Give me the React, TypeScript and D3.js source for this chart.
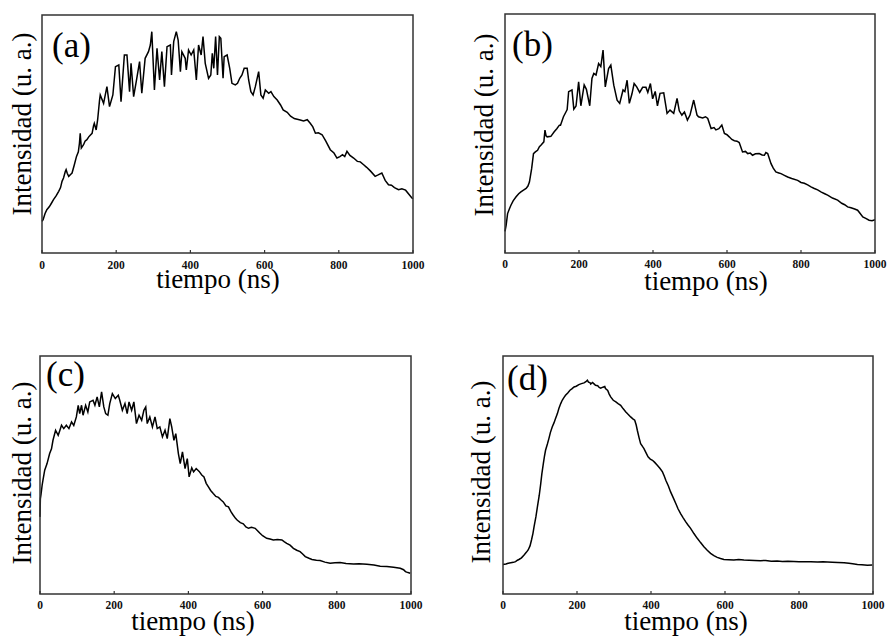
import React from 'react';
import * as d3 from 'd3';

// ---------- DATA (time in ns, intensity in arbitrary units 0-100 of the panel height) ----------
const timeA = [0,3,8,13,20,25,31,38,45,50,54,58,63,65,68,72,77,81,87,93,98,101,103,106,112,116,121,126,130,135,139,141,146,150,153,155,157,166,175,182,191,198,207,213,222,229,236,240,247,254,263,269,278,287,292,296,303,310,317,323,330,337,346,349,355,362,367,373,377,386,389,395,402,409,416,422,429,434,440,449,455,459,463,468,473,478,482,488,491,499,506,512,521,527,533,539,545,553,557,563,569,575,584,590,596,602,611,617,625,634,643,650,661,670,680,696,705,715,723,730,737,745,755,765,777,787,795,803,810,816,822,830,840,850,858,867,875,885,898,906,916,925,934,942,950,961,970,980,990,997,1000];
const intensityA = [13.3,14,16.5,18.2,19.5,20.8,22.4,24,25.9,27.5,30.1,31.5,34.3,35,33.5,32.2,33,33.6,37,40.6,42.5,46.2,50.3,44.1,45.5,47,47.6,48.8,49.5,50.3,53.5,54.5,51.7,56,60.8,64,66.4,62.9,69.9,61.5,66.4,78.3,79,63.6,83.2,83.2,67.8,79.7,65.7,72,80.4,67.1,81.8,84.6,87.4,93,68.5,86,72.7,84.6,69.9,86.7,87.4,74.8,88.8,93,89.5,76.2,84.6,81.8,76.9,85.3,83.2,85.3,72.7,87.4,83.2,90.9,79.7,73.4,74.8,83.9,77.6,90.9,74.8,90.9,90.2,73.4,82.5,83.2,77.6,71.3,70.6,71.3,73.4,74.8,77.6,77.6,72.7,67.8,66.4,69.9,76.2,66.4,65,68.5,67.1,67.8,65.7,64.3,62.2,60.1,59.1,57.5,56.5,55.9,55.5,56,54.5,53,50.3,50.5,49.7,47,43.4,42,39.9,40.5,41.3,40.5,42.7,41,39.9,38.5,38.3,37.1,36,34.5,32.2,32.8,33.6,30.5,28.7,28.5,27.5,26.6,27,26.4,24.5,23.1,22.8];

const timeB = [0,3,7,12,16,22,30,37,43,50,57,62,66,72,77,82,88,93,97,105,108,111,114,124,133,140,147,150,158,165,168,172,181,186,192,199,205,214,220,229,235,240,246,253,259,265,271,280,286,294,303,310,319,324,330,336,343,349,356,364,372,381,386,393,399,406,412,419,429,438,446,456,465,471,478,485,493,500,510,519,523,534,542,548,557,565,570,578,586,593,600,606,613,620,627,633,642,650,656,663,669,677,687,695,701,705,710,719,725,732,740,746,755,764,775,791,800,809,818,827,836,845,855,864,872,885,899,910,918,926,935,945,953,960,967,975,984,992,1000];
const intensityB = [9,11.6,16.5,18.5,20,21.8,23.5,24.8,25.6,26.3,27,28,29.7,35.3,41.6,42.3,43,44.5,45.1,46.5,51.4,49,48.6,48.8,50.7,52,53.5,53.5,57,59.1,60,67.5,68.2,60.2,61.5,71.6,61.6,70.3,68.5,61.6,73,75.1,74.5,79.3,78,84.9,69.5,77.2,78.6,70.2,63.9,62.6,68.2,67.5,72.3,62.6,66.5,70.9,69.5,67.2,69.3,69.3,67.2,70.9,64.5,67.6,61.6,66.8,67,58.4,59.8,58.4,64.7,59.5,57.7,59,55.6,57.7,64,57.7,57,56.5,57,56.3,52.1,52.5,51.5,52,53.5,50,49.5,48.6,47.5,47,46.8,46.2,42.3,42.5,41.6,41.8,40.9,41.5,41.6,41,40.9,42,41.6,37.4,35.5,33.9,33.5,33.2,32.5,31.8,31.2,30.4,29.5,29.2,28.5,27.7,27,26.4,25.5,24.8,24.2,23,22.1,20.8,20.2,19.3,18.9,18.4,17.9,16.5,15.1,14.5,13.7,13.5,13.9];

const timeC = [0,1,3,6,8,12.7,19,26,31,35,42,49,53,58,64,71,78,85,91,98,103,107,112,116,123,129,134,143,148,154,160,166,172,177,183,188,195,203,211,215,222,229,235,240,247,253,260,267,274,280,285,289,296,303,310,316,323,330,337,343,350,355,361,366,373,378,384,391,397,402,409,414,421,429,436,442,448,454,460,467,474,481,488,494,501,508,515,521,527,532,540,548,555,562,570,580,587,593,600,611,620,629,640,652,658,665,674,683,692,701,708,715,725,733,745,755,768,782,795,809,825,845,860,881,900,917,935,953,971,980,985,992,998];
const intensityC = [32.4,40,42.2,46,47.8,52,54.8,59,61,64.6,68.8,66.7,68.5,70.9,69.5,70.9,69.5,72.3,70.8,74.4,79.3,75.8,79.3,75.1,79.3,76.5,80.7,81.4,79.3,82.8,78.6,84.9,78.6,75.8,75.1,80,84.2,82.1,83.5,81.4,77.2,80,75.8,80.7,77.2,80.7,71.6,75.1,73,77.2,78.6,71.6,74.4,70.2,74.4,69.5,70.2,66,68.8,65.3,73.7,70.2,64.6,67.4,59,54.8,59.7,52.7,56.9,49.2,53,51.3,52.7,51.5,50,49.2,46.5,45,43.5,42.2,41,40.6,39.5,38.7,37,36.6,34.5,33.1,31.8,31,30,29.5,28.2,27.6,28,27.6,26.5,25.5,24.5,23.4,23.1,22.7,22.9,22.7,22,21.3,20.5,19.2,18.4,17.8,16.8,15.7,15,14.5,14.2,14.1,13.4,12.9,13.1,13.2,12.8,12.6,12.7,12.5,12.2,11.7,11.6,11.2,10.8,10.2,9.4,9,8.7];

const timeD = [0,8,14,21,28,34,39,43,50,57,63,68,73,77,81,84,89,93,98,102,105,109,112,115,120,124,128,133,138,142,147,151,156,160,165,169,175,181,186,192,198,205,212,219,224,228,231,235,237,242,246,250,256,260,264,270,275,277,283,287,291,298,305,311,318,325,332,338,345,351,356,360,363,368,372,377,381,386,392,398,404,410,417,424,431,436,440,447,453,460,467,473,480,487,494,500,507,516,525,534,543,552,561,570,579,588,597,610,624,637,651,665,680,696,710,725,741,755,770,786,800,815,832,850,865,877,890,905,922,935,945,958,970,985,998];
const intensityD = [12.4,12.6,12.9,13.1,13.3,13.6,14.2,14.5,15.2,16.4,17.5,18.5,20.2,22.7,25.5,28.3,32.5,36.6,41.5,46.4,50.5,54.8,57.8,60.4,63,65.3,67.8,70.2,72,73.7,75.8,77.9,80,81.4,82.6,83.5,84.5,85.6,86.2,87,87.3,88,88.4,88.7,89.2,89.8,89,88.8,88.2,88.9,88.3,87.7,87.5,86.8,86.5,86.9,87.2,86.3,85.5,84,82.8,81.4,80.7,80,79.3,77.8,76.5,75.5,74.4,73.6,73,71,68.8,65.5,63.2,62,61.1,59.5,57.6,56.7,56.2,55.3,54.1,52.8,51.3,49.5,47.8,45.4,42.9,40.5,38,35.8,33.8,32,30.3,29,27.6,25.4,23.4,21.6,19.9,18.4,17.1,16.1,15.4,14.9,14.5,14.4,14.3,14.5,14.3,14.2,14.1,14,14.1,13.8,13.9,13.7,13.8,13.7,13.6,13.5,13.6,13.4,13.5,13.4,13.3,13.2,13.1,12.9,12.7,12.4,12.3,12.1,12.2];

const xTickValues = [0, 200, 400, 600, 800, 1000];
const panelLabels = ['(a)', '(b)', '(c)', '(d)'];
const xTitle = 'tiempo (ns)';
const yTitle = 'Intensidad (u. a.)';

// ---------- LAYOUT ----------
const layouts = [
  { x0: 42, x1: 413, y0: 15, y1: 253, yTitleX: 31, yTitleY: 124, labelX: 52, labelY: 57, xTitleX: 218, xTitleY: 288, tickY: 269 },
  { x0: 505, x1: 875, y0: 14, y1: 253, yTitleX: 493, yTitleY: 125, labelX: 512, labelY: 56, xTitleX: 706, xTitleY: 290, tickY: 268 },
  { x0: 40, x1: 411, y0: 356, y1: 594, yTitleX: 31, yTitleY: 473, labelX: 46, labelY: 386, xTitleX: 193, xTitleY: 630, tickY: 609 },
  { x0: 503, x1: 873, y0: 356, y1: 594, yTitleX: 490, yTitleY: 472, labelX: 507, labelY: 390, xTitleX: 686, xTitleY: 630, tickY: 609 },
];

const series = [
  { t: timeA, v: intensityA },
  { t: timeB, v: intensityB },
  { t: timeC, v: intensityC },
  { t: timeD, v: intensityD },
];

const FONT = 'Liberation Serif, Times New Roman, DejaVu Serif, serif';

function Panel({ idx }: { idx: number }) {
  const L = layouts[idx];
  const s = series[idx];
  const x = d3.scaleLinear().domain([0, 1000]).range([L.x0, L.x1]);
  const y = d3.scaleLinear().domain([0, 100]).range([L.y1, L.y0]);
  const pts: [number, number][] = s.t.map((t, i) => [t, s.v[i]]);
  const line = d3
    .line<[number, number]>()
    .x((d) => x(d[0]))
    .y((d) => y(d[1]));
  return (
    <g>
      <path d={line(pts) || ''} fill="none" stroke="#000" strokeWidth={1.5} strokeLinejoin="miter" />
      <rect x={L.x0} y={L.y0} width={L.x1 - L.x0} height={L.y1 - L.y0} fill="none" stroke="#333" strokeWidth={1.5} />
      {xTickValues.map((tv) => (
        <g key={tv}>
          <line x1={x(tv)} x2={x(tv)} y1={L.y1} y2={L.y1 - 3} stroke="#333" strokeWidth={1.2} />
          <text x={x(tv)} y={L.tickY} textAnchor="middle" style={{ fontFamily: FONT }} fontWeight="bold" fontSize={11.5} fill="#111">
            {tv}
          </text>
        </g>
      ))}
      <text x={L.xTitleX} y={L.xTitleY} textAnchor="middle" style={{ fontFamily: FONT }} fontSize={27} fill="#000">
        {xTitle}
      </text>
      <text
        transform={`translate(${L.yTitleX},${L.yTitleY}) rotate(-90)`}
        textAnchor="middle"
        style={{ fontFamily: FONT }}
        fontSize={27}
        fill="#000"
      >
        {yTitle}
      </text>
      <text x={L.labelX} y={L.labelY} style={{ fontFamily: FONT }} fontSize={35} fill="#000">
        {panelLabels[idx]}
      </text>
    </g>
  );
}

export default function App() {
  return (
    <svg
      width={888}
      height={639}
      viewBox="0 0 888 639"
      style={{ position: 'absolute', left: 0, top: 0, background: '#fff' }}
    >
      <rect x={0} y={0} width={888} height={639} fill="#fff" />
      {[0, 1, 2, 3].map((i) => (
        <Panel key={i} idx={i} />
      ))}
    </svg>
  );
}
